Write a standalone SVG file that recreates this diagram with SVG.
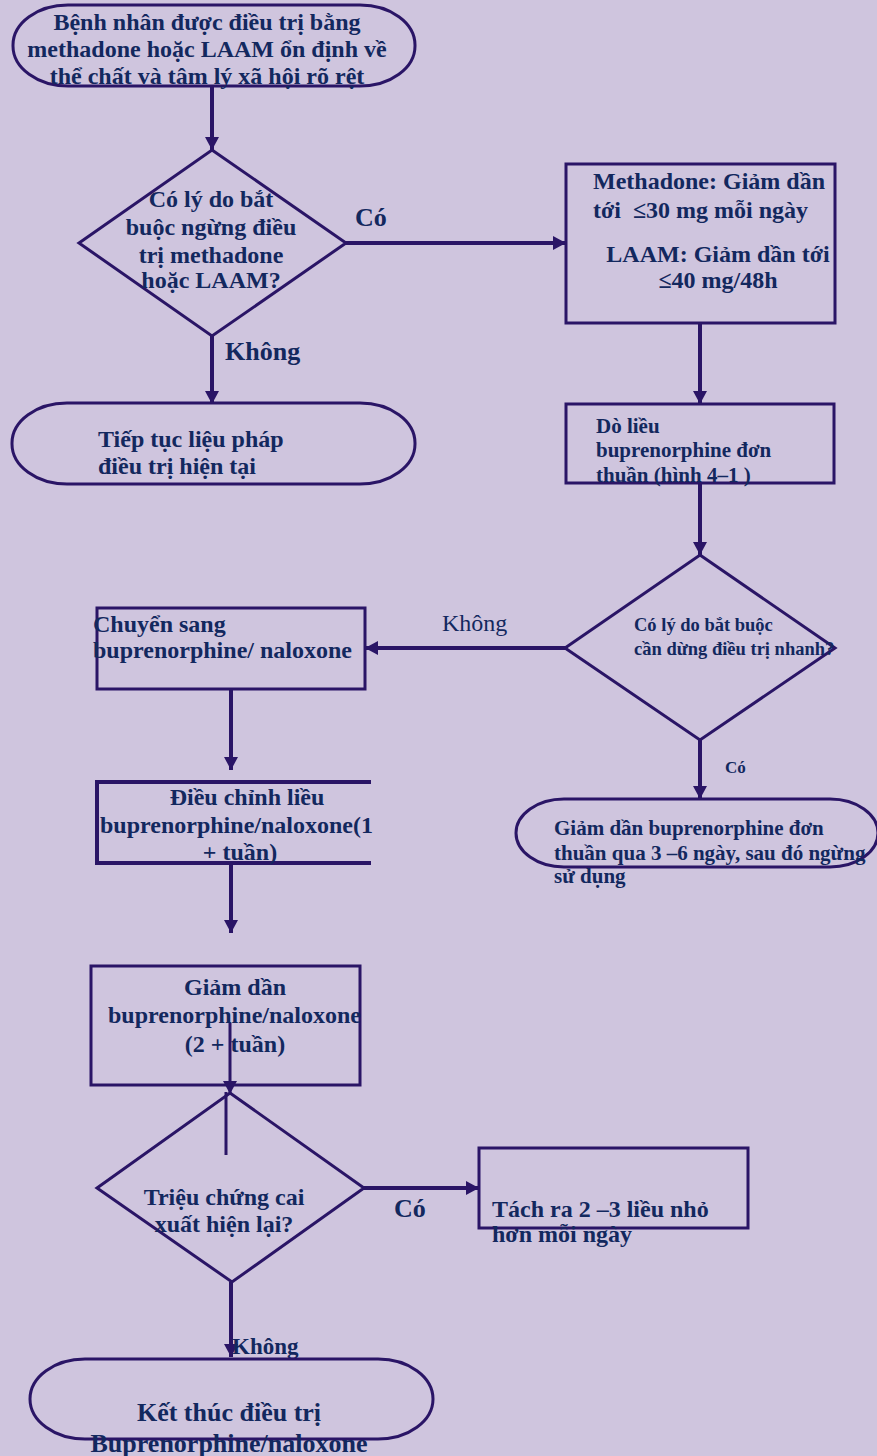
<svg xmlns="http://www.w3.org/2000/svg" width="877" height="1456" viewBox="0 0 877 1456">
<defs>
<marker id="ah" markerUnits="userSpaceOnUse" markerWidth="14" markerHeight="14" refX="13" refY="7" orient="auto">
<path d="M0,0 L13,7 L0,14 z" fill="#2A1566"/>
</marker>
<style>
.s{fill:none;stroke:#2A1566;stroke-width:3}
.c{fill:none;stroke:#2A1566;stroke-width:4}
.t{font-family:"Liberation Serif","Times New Roman",serif;font-weight:bold;fill:#13285E}
.r{font-weight:normal}
.m{text-anchor:middle}
</style>
</defs>
<rect width="877" height="1456" fill="#CFC5DE"/>

<g id="connectors">
<line class="c" x1="212" y1="86" x2="212" y2="150" marker-end="url(#ah)"/>
<line class="c" x1="346" y1="243" x2="566" y2="243" stroke-width="5" marker-end="url(#ah)"/>
<line class="c" x1="212" y1="336" x2="212" y2="404" marker-end="url(#ah)"/>
<line class="c" x1="700" y1="323" x2="700" y2="404" marker-end="url(#ah)"/>
<line class="c" x1="700" y1="483" x2="700" y2="555" marker-end="url(#ah)"/>
<line class="c" x1="566" y1="648" x2="365" y2="648" stroke-width="6" marker-end="url(#ah)"/>
<line class="c" x1="700" y1="740" x2="700" y2="799" marker-end="url(#ah)"/>
<line class="c" x1="231" y1="689" x2="231" y2="770" marker-end="url(#ah)"/>
<line class="c" x1="231" y1="863" x2="231" y2="933" marker-end="url(#ah)"/>
<line class="s" x1="230" y1="1023" x2="230" y2="1094" stroke-width="1.5" marker-end="url(#ah)"/>
<line class="s" x1="226" y1="1092" x2="226" y2="1155"/>
<line class="c" x1="364" y1="1188" x2="479" y2="1188" stroke-width="5" marker-end="url(#ah)"/>
<line class="c" x1="231" y1="1282" x2="231" y2="1357" marker-end="url(#ah)"/>
<text class="t" x="355" y="226" font-size="26">Có</text>
<text class="t" x="225" y="360" font-size="26">Không</text>
<text class="t r" x="442" y="631" font-size="24">Không</text>
<text class="t" x="725" y="773" font-size="17">Có</text>
<text class="t" x="394" y="1217" font-size="26">Có</text>
<text class="t" x="232" y="1354" font-size="23">Không</text>
</g>

<g id="start">
<rect class="s" x="13" y="5" width="402" height="81" rx="55" ry="40"/>
<text class="t m" font-size="24" x="207" y="30">Bệnh nhân được điều trị bằng</text>
<text class="t m" font-size="24" x="207" y="57">methadone hoặc LAAM ổn định về</text>
<text class="t m" font-size="24" x="207" y="84">thể chất và tâm lý xã hội rõ rệt</text>
</g>

<g id="decision1">
<polygon class="s" points="212,150 346,243 212,336 79,243"/>
<text class="t m" font-size="24" x="211" y="207">Có lý do bắt</text>
<text class="t m" font-size="24" x="211" y="235">buộc ngừng điều</text>
<text class="t m" font-size="24" x="211" y="263">trị methadone</text>
<text class="t m" font-size="24" x="211" y="288">hoặc LAAM?</text>
</g>

<g id="taper">
<rect class="s" x="566" y="164" width="269" height="159"/>
<text class="t" font-size="24" x="593" y="189">Methadone: Giảm dần</text>
<text class="t" font-size="24" x="593" y="218">tới &#160;≤30 mg mỗi ngày</text>
<text class="t m" font-size="24" x="718" y="262">LAAM: Giảm dần tới</text>
<text class="t m" font-size="24" x="718" y="288">≤40 mg/48h</text>
</g>

<g id="continue">
<rect class="s" x="12" y="403" width="403" height="81" rx="55" ry="40"/>
<text class="t" font-size="24" x="98" y="447">Tiếp tục liệu pháp</text>
<text class="t" font-size="24" x="98" y="474">điều trị hiện tại</text>
</g>

<g id="titrate">
<rect class="s" x="566" y="404" width="268" height="79"/>
<text class="t" font-size="21" x="596" y="433">Dò liều</text>
<text class="t" font-size="21" x="596" y="457">buprenorphine đơn</text>
<text class="t" font-size="21" x="596" y="482">thuần (hình 4–1 )</text>
</g>

<g id="decision2">
<polygon class="s" points="700,555 835,648 700,740 565,648"/>
<text class="t" font-size="18.5" x="634" y="631">Có lý do bắt buộc</text>
<text class="t" font-size="18.5" x="634" y="655">cần dừng điều trị nhanh?</text>
</g>

<g id="switch">
<rect class="s" x="97" y="608" width="268" height="81"/>
<text class="t" font-size="24" x="93" y="632">Chuyển sang</text>
<text class="t" font-size="24" x="93" y="658">buprenorphine/ naloxone</text>
</g>

<g id="adjust">
<path class="c" d="M371,782 H97 V863 H371"/>
<text class="t m" font-size="24" x="247" y="805">Điều chỉnh liều</text>
<text class="t" font-size="24" x="100" y="833">buprenorphine/naloxone(1</text>
<text class="t m" font-size="24" x="240" y="860">+ tuần)</text>
</g>

<g id="taperbup">
<rect class="s" x="516" y="799" width="362" height="68" rx="48" ry="34"/>
<text class="t" font-size="21" x="554" y="835">Giảm dần buprenorphine đơn</text>
<text class="t" font-size="21" x="554" y="860">thuần qua 3 –6 ngày, sau đó ngừng</text>
<text class="t" font-size="21" x="554" y="883">sử dụng</text>
</g>

<g id="taperbupnal">
<rect class="s" x="91" y="966" width="269" height="119" stroke-width="3.5"/>
<text class="t m" font-size="24" x="235" y="995">Giảm dần</text>
<text class="t" font-size="24" x="108" y="1023">buprenorphine/naloxone</text>
<text class="t m" font-size="24" x="235" y="1052">(2 + tuần)</text>
</g>

<g id="decision3">
<polygon class="s" points="230,1093 364,1188 232,1282 97,1188"/>
<text class="t m" font-size="24" x="224" y="1205">Triệu chứng cai</text>
<text class="t m" font-size="24" x="224" y="1232">xuất hiện lại?</text>
</g>

<g id="split">
<rect class="s" x="479" y="1148" width="269" height="80"/>
<text class="t" font-size="24" x="492" y="1217">Tách ra 2 –3 liều nhỏ</text>
<text class="t" font-size="24" x="492" y="1242">hơn mỗi ngày</text>
</g>

<g id="end">
<rect class="s" x="30" y="1359" width="403" height="80" rx="55" ry="40"/>
<text class="t m" font-size="26" x="229" y="1421">Kết thúc điều trị</text>
<text class="t m" font-size="26" x="229" y="1452">Buprenorphine/naloxone</text>
</g>
</svg>
